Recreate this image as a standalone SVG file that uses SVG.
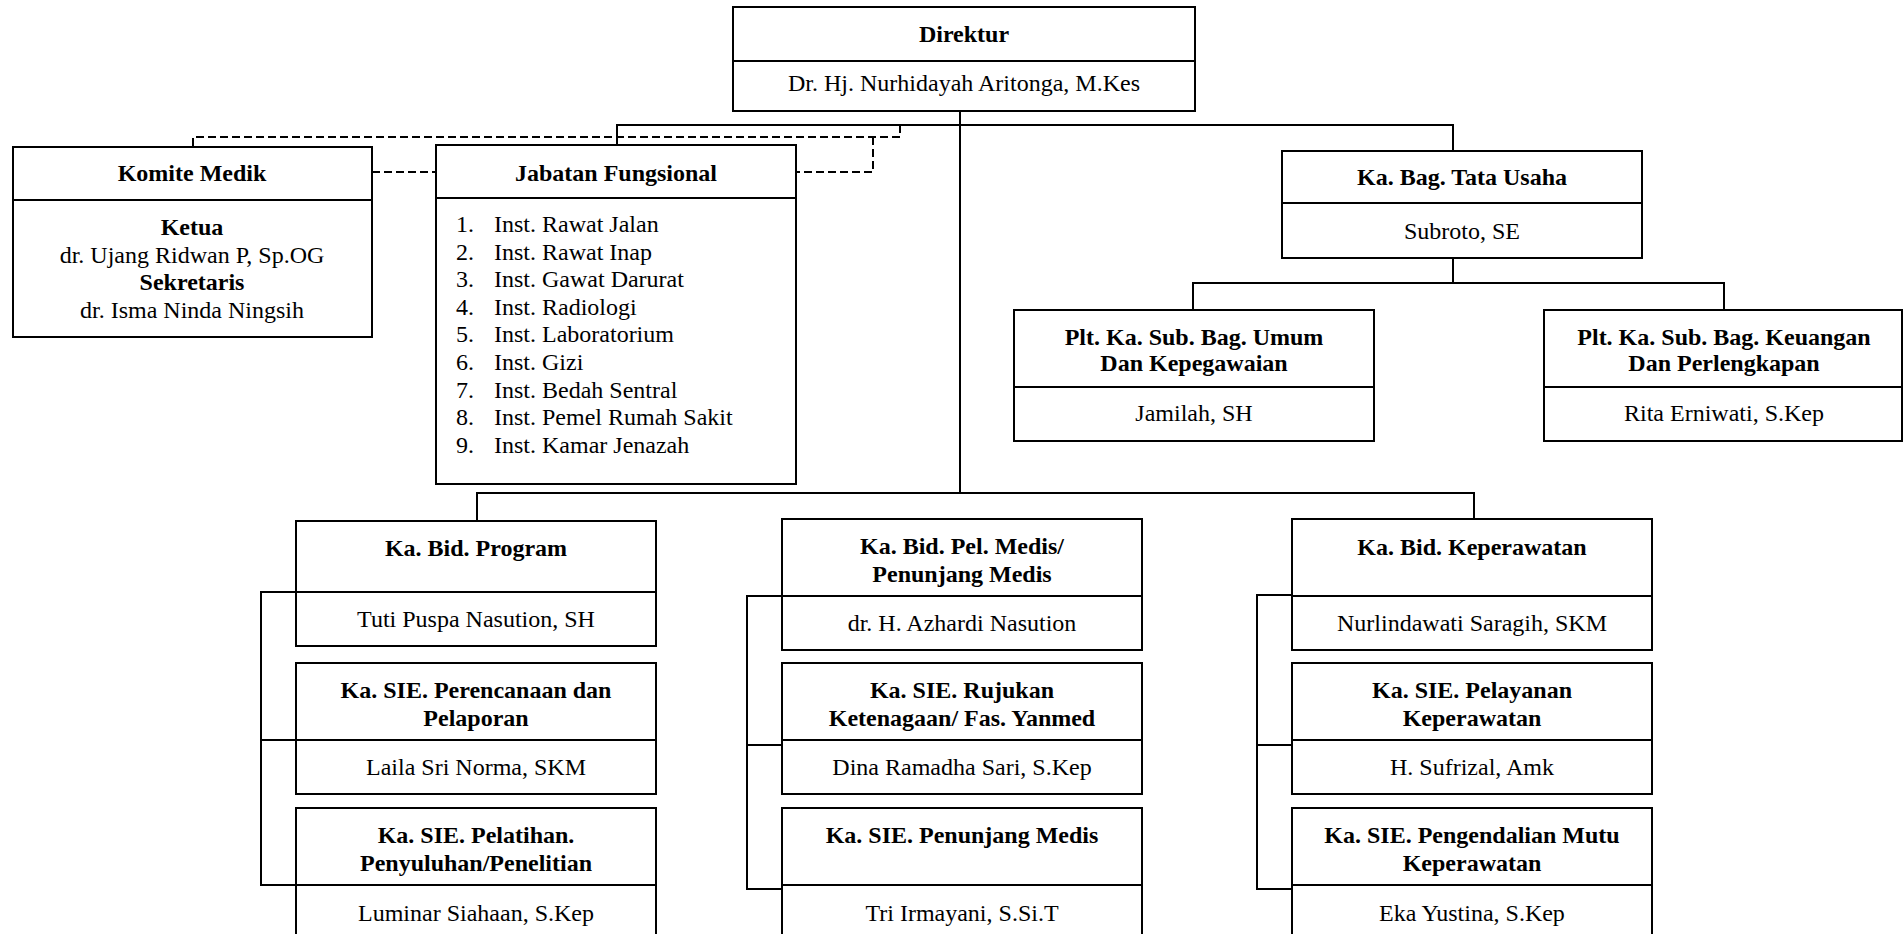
<svg xmlns="http://www.w3.org/2000/svg" width="1903" height="934" viewBox="0 0 1903 934">
<style>
.b{fill:#fff;stroke:#000;stroke-width:2}
.d{stroke:#000;stroke-width:2;fill:none}
.c{stroke:#000;stroke-width:2;fill:none}
.dash{stroke:#000;stroke-width:2;fill:none;stroke-dasharray:8 4}
text{font-family:"Liberation Serif","Times New Roman",serif;font-size:24px;fill:#000}
.t{font-weight:bold;text-anchor:middle}
.n{text-anchor:middle}
</style>
<rect width="1903" height="934" fill="#fff"/>
<g id="connectors">
<path class="c" d="M960 111V493"/>
<path class="c" d="M617 145V125H1453V151"/>
<path class="c" d="M1453 258V283M1193 310V283H1724V310"/>
<path class="c" d="M477 521V493H1474V519"/>
<path class="dash" d="M900 125V137H193V147"/>
<path class="dash" d="M873 137V172H796"/>
<path class="dash" d="M372 172H436"/>
<path class="c" d="M296 592H261V885H296M261 740H296"/>
<path class="c" d="M782 596H747V889H782M747 745H782"/>
<path class="c" d="M1292 595H1257V889H1292M1257 745H1292"/>
</g>
<g id="direktur">
<rect class="b" x="733" y="7" width="462" height="104"/>
<path class="d" d="M733 61H1195"/>
<text class="t" x="964" y="42">Direktur</text>
<text class="n" x="964" y="91">Dr. Hj. Nurhidayah Aritonga, M.Kes</text>
</g>
<g id="komite-medik">
<rect class="b" x="13" y="147" width="359" height="190"/>
<path class="d" d="M13 200H372"/>
<text class="t" x="192" y="181">Komite Medik</text>
<text class="t" x="192" y="235">Ketua</text>
<text class="n" x="192" y="262.6">dr. Ujang Ridwan P, Sp.OG</text>
<text class="t" x="192" y="290.2">Sekretaris</text>
<text class="n" x="192" y="317.8">dr. Isma Ninda Ningsih</text>
</g>
<g id="jabatan-fungsional">
<rect class="b" x="436" y="145" width="360" height="339"/>
<path class="d" d="M436 198H796"/>
<text class="t" x="616" y="180.5">Jabatan Fungsional</text>
<text x="456" y="232">1.</text><text x="494" y="232">Inst. Rawat Jalan</text>
<text x="456" y="259.6">2.</text><text x="494" y="259.6">Inst. Rawat Inap</text>
<text x="456" y="287.2">3.</text><text x="494" y="287.2">Inst. Gawat Darurat</text>
<text x="456" y="314.8">4.</text><text x="494" y="314.8">Inst. Radiologi</text>
<text x="456" y="342.4">5.</text><text x="494" y="342.4">Inst. Laboratorium</text>
<text x="456" y="370">6.</text><text x="494" y="370">Inst. Gizi</text>
<text x="456" y="397.6">7.</text><text x="494" y="397.6">Inst. Bedah Sentral</text>
<text x="456" y="425.2">8.</text><text x="494" y="425.2">Inst. Pemel Rumah Sakit</text>
<text x="456" y="452.8">9.</text><text x="494" y="452.8">Inst. Kamar Jenazah</text>
</g>
<g id="tata-usaha">
<rect class="b" x="1282" y="151" width="360" height="107"/>
<path class="d" d="M1282 203H1642"/>
<text class="t" x="1462" y="185">Ka. Bag. Tata Usaha</text>
<text class="n" x="1462" y="239">Subroto, SE</text>
</g>
<g id="sub-bag-umum">
<rect class="b" x="1014" y="310" width="360" height="131"/>
<path class="d" d="M1014 387H1374"/>
<text class="t" x="1194" y="345">Plt. Ka. Sub. Bag. Umum</text>
<text class="t" x="1194" y="371">Dan Kepegawaian</text>
<text class="n" x="1194" y="421">Jamilah, SH</text>
</g>
<g id="sub-bag-keuangan">
<rect class="b" x="1544" y="310" width="358" height="131"/>
<path class="d" d="M1544 387H1902"/>
<text class="t" x="1724" y="345">Plt. Ka. Sub. Bag. Keuangan</text>
<text class="t" x="1724" y="371">Dan Perlengkapan</text>
<text class="n" x="1724" y="421">Rita Erniwati, S.Kep</text>
</g>
<g id="bid-program">
<rect class="b" x="296" y="521" width="360" height="125"/>
<path class="d" d="M296 592H656"/>
<text class="t" x="476" y="556">Ka. Bid. Program</text>
<text class="n" x="476" y="627">Tuti Puspa Nasution, SH</text>
</g>
<g id="sie-perencanaan">
<rect class="b" x="296" y="663" width="360" height="131"/>
<path class="d" d="M296 740H656"/>
<text class="t" x="476" y="698">Ka. SIE. Perencanaan dan</text>
<text class="t" x="476" y="726">Pelaporan</text>
<text class="n" x="476" y="775">Laila Sri Norma, SKM</text>
</g>
<g id="sie-pelatihan">
<rect class="b" x="296" y="808" width="360" height="140"/>
<path class="d" d="M296 885H656"/>
<text class="t" x="476" y="843">Ka. SIE. Pelatihan.</text>
<text class="t" x="476" y="871">Penyuluhan/Penelitian</text>
<text class="n" x="476" y="921">Luminar Siahaan, S.Kep</text>
</g>
<g id="bid-pel-medis">
<rect class="b" x="782" y="519" width="360" height="131"/>
<path class="d" d="M782 596H1142"/>
<text class="t" x="962" y="554">Ka. Bid. Pel. Medis/</text>
<text class="t" x="962" y="582">Penunjang Medis</text>
<text class="n" x="962" y="631">dr. H. Azhardi Nasution</text>
</g>
<g id="sie-rujukan">
<rect class="b" x="782" y="663" width="360" height="131"/>
<path class="d" d="M782 740H1142"/>
<text class="t" x="962" y="698">Ka. SIE. Rujukan</text>
<text class="t" x="962" y="726">Ketenagaan/ Fas. Yanmed</text>
<text class="n" x="962" y="775">Dina Ramadha Sari, S.Kep</text>
</g>
<g id="sie-penunjang-medis">
<rect class="b" x="782" y="808" width="360" height="140"/>
<path class="d" d="M782 885H1142"/>
<text class="t" x="962" y="843">Ka. SIE. Penunjang Medis</text>
<text class="n" x="962" y="921">Tri Irmayani, S.Si.T</text>
</g>
<g id="bid-keperawatan">
<rect class="b" x="1292" y="519" width="360" height="131"/>
<path class="d" d="M1292 596H1652"/>
<text class="t" x="1472" y="555">Ka. Bid. Keperawatan</text>
<text class="n" x="1472" y="631">Nurlindawati Saragih, SKM</text>
</g>
<g id="sie-pelayanan-keperawatan">
<rect class="b" x="1292" y="663" width="360" height="131"/>
<path class="d" d="M1292 740H1652"/>
<text class="t" x="1472" y="698">Ka. SIE. Pelayanan</text>
<text class="t" x="1472" y="726">Keperawatan</text>
<text class="n" x="1472" y="775">H. Sufrizal, Amk</text>
</g>
<g id="sie-pengendalian-mutu">
<rect class="b" x="1292" y="808" width="360" height="140"/>
<path class="d" d="M1292 885H1652"/>
<text class="t" x="1472" y="843">Ka. SIE. Pengendalian Mutu</text>
<text class="t" x="1472" y="871">Keperawatan</text>
<text class="n" x="1472" y="921">Eka Yustina, S.Kep</text>
</g>
</svg>
